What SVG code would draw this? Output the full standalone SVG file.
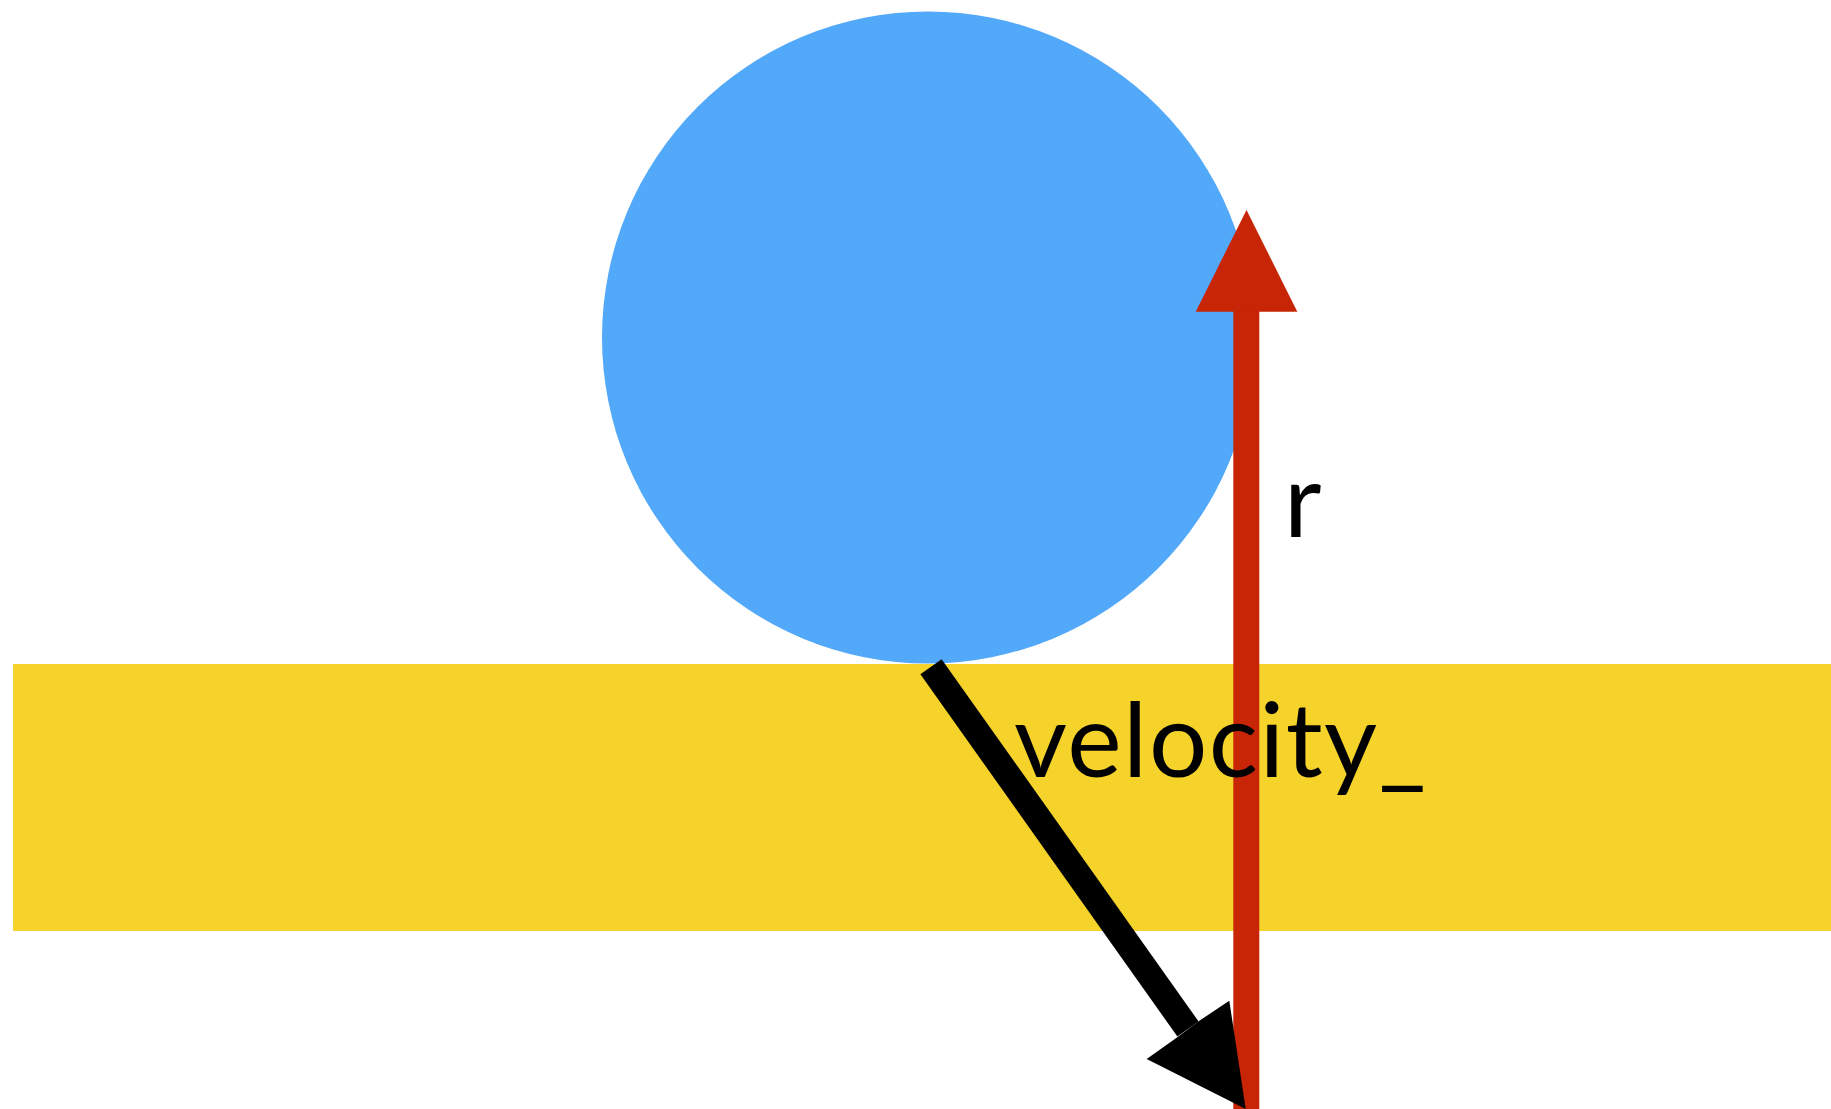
<svg xmlns="http://www.w3.org/2000/svg" width="1831" height="1109" viewBox="0 0 1831 1109">
<style>
.lbl{font-family:Lato,"Liberation Sans",Arial,sans-serif;font-size:103px;fill:#000}
</style>
<rect width="1831" height="1109" fill="#fff"/>
<g id="ball"><circle cx="928" cy="337.5" r="326" fill="#52A8F9"/></g>
<g id="ground"><rect x="13" y="664" width="1818" height="267" fill="#F5D32A"/></g>
<g id="connectors">
<g id="r-vector">
<rect x="1233.3" y="305" width="26" height="804" fill="#C72506"/>
<polygon points="1246.5,210 1297.3,311.7 1195.7,311.7" fill="#C72506"/>
</g>
<g id="velocity-vector">
<line x1="931" y1="666.7" x2="1188" y2="1029" stroke="#000" stroke-width="26"/>
<polygon points="1245.7,1109 1146.7,1059 1177.3,1037.3 1199,1021 1229.3,1000.7" fill="#000"/>
</g>
</g>
<g id="labels">
<text class="lbl" x="1014" y="777" textLength="412" lengthAdjust="spacing">velocity_</text>
<text class="lbl" x="1284" y="537">r</text>
</g>
</svg>
